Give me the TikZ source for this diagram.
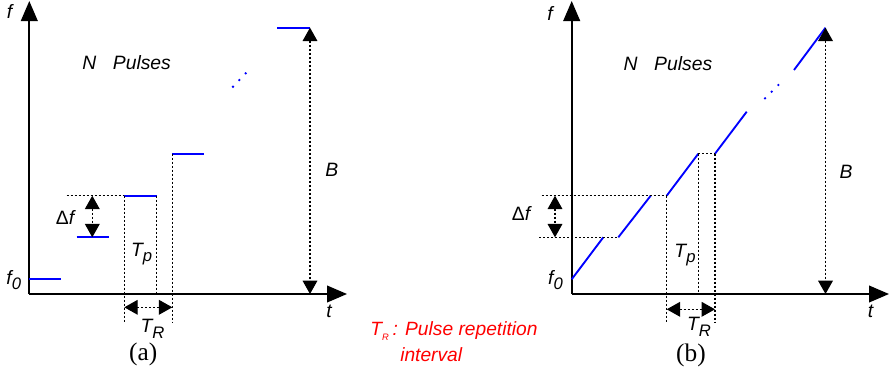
\documentclass[tikz,border=0pt]{standalone}
\usepackage{fontspec}
\setmainfont{Liberation Sans}
\newfontfamily\capfont{Liberation Serif}
\usepackage{tikz}
\usetikzlibrary{arrows.meta}
\definecolor{pulseblue}{rgb}{0,0,1}
\definecolor{notered}{rgb}{1,0,0}
\newcommand\lblsub[2]{#1\raisebox{-0.3em}{\fontsize{12.5}{12.5}\selectfont #2}}
\tikzset{
  axis/.style={line width=1.4pt, -{Triangle[length=15pt,width=12.5pt]}},
  pulse/.style={draw=pulseblue, line width=1.4pt},
  guide/.style={line width=0.9pt, dash pattern=on 1.6pt off 1.4pt},
  dim/.style={guide, {Triangle[length=10pt,width=11pt]}-{Triangle[length=10pt,width=11pt]}},
  lbl/.style={font=\fontsize{14.5}{17}\selectfont\itshape, inner sep=0pt},
  note/.style={font=\fontsize{14.4}{17}\selectfont\itshape, text=notered, inner sep=0pt, anchor=base west},
  sublbl/.style={font=\capfont\fontsize{19}{22}\selectfont, inner sep=0pt},
}
\begin{document}
\begin{tikzpicture}[x=0.75pt,y=-0.75pt]
\useasboundingbox (0,0) rectangle (891,376);
\coordinate (oa)   at (29.3,294);
\coordinate (atop) at (29.3,1);
\coordinate (aend) at (347,294);
\coordinate (alow) at (0,322.7);
\coordinate (a1s) at (29.3,279.3);  \coordinate (a1e) at (61,279.3);
\coordinate (a2s) at (76.7,237.3);  \coordinate (a2e) at (109,237.3);
\coordinate (a3s) at (124.3,195.7); \coordinate (a3e) at (156.7,195.7);
\coordinate (a4s) at (172.3,153.7); \coordinate (a4e) at (204.3,153.7);
\coordinate (ans) at (277.3,27.7);  \coordinate (ane) at (310,27.7);
\coordinate (adf) at (66.7,195.7);
\coordinate (adt) at (92.3,195.7);  \coordinate (adb) at (92.3,237.3);
\coordinate (atrl) at (124.3,307.3); \coordinate (atrr) at (172.3,307.3);
\coordinate (ad1) at (233,86.7);
\coordinate (ad2) at (239.3,80);
\coordinate (ad3) at (245.7,73.3);
\draw[axis] (oa) -- (atop);
\draw[axis] (oa) -- (aend);
\draw[pulse] (a1s) -- (a1e);
\draw[pulse] (a2s) -- (a2e);
\draw[pulse] (a3s) -- (a3e);
\draw[pulse] (a4s) -- (a4e);
\draw[pulse] (ans) -- (ane);
\fill[pulseblue] (ad1) circle (1.3) (ad2) circle (1.3) (ad3) circle (1.3);
\draw[guide] (adf) -- (a3s);
\draw[guide] (a3s) -- (a3s |- alow);
\draw[guide] (a3e) -- (a3e |- oa);
\draw[guide] (a4s) -- (a4s |- alow);
\draw[dim] (adt) -- (adb);
\draw[dim] (atrl) -- (atrr);
\draw[dim] (ane) -- (ane |- oa);
\node[lbl] (af)  at (9.5,11.5)  {f};
\node[lbl] (af0) at (13.7,280)  {\lblsub{f}{0}};
\node[lbl] (adfl) at (65,217)   {{\upshape Δ}f};
\node[lbl] (atp) at (141.7,254) {\lblsub{T}{p}};
\node[lbl] (atr) at (152.5,329) {\lblsub{T}{R}};
\node[lbl] (ab)  at (331.7,169.5) {B};
\node[lbl] (at)  at (329,311)   {t};
\node[lbl, anchor=base west] (anp) at (82,69.3) {N\hspace{12.5pt}Pulses};
\node[sublbl] (acap) at (143.3,354) {(a)};
\coordinate (ob)   at (571.7,294);
\coordinate (btop) at (571.7,1);
\coordinate (bend) at (889,294);
\coordinate (b1s) at (571.7,279.3); \coordinate (b1e) at (603.3,237.3);
\coordinate (b2s) at (618.3,237.3); \coordinate (b2e) at (650.7,195.7);
\coordinate (b3s) at (666.7,195.7); \coordinate (b3e) at (698.3,153.7);
\coordinate (b4s) at (715,153.7);   \coordinate (b4e) at (746.7,111.7);
\coordinate (bns) at (794,70);      \coordinate (bne) at (825.5,27.7);
\coordinate (bdf1) at (539.3,237.3);
\coordinate (bdf2) at (541.7,195.7);
\coordinate (bdt) at (555,195.7);   \coordinate (bdb) at (555,237.3);
\coordinate (btrl) at (666.7,309.3); \coordinate (btrr) at (715,309.3);
\coordinate (bd1) at (765,98.3);
\coordinate (bd2) at (771.7,91.7);
\coordinate (bd3) at (778.3,85);
\draw[axis] (ob) -- (btop);
\draw[axis] (ob) -- (bend);
\draw[pulse] (b1s) -- (b1e);
\draw[pulse] (b2s) -- (b2e);
\draw[pulse] (b3s) -- (b3e);
\draw[pulse] (b4s) -- (b4e);
\draw[pulse] (bns) -- (bne);
\fill[pulseblue] (bd1) circle (1.3) (bd2) circle (1.3) (bd3) circle (1.3);
\draw[guide] (bdf1) -- (b2s);
\draw[guide] (bdf2) -- (b3s);
\draw[guide] (b3e) -- (b4s);
\draw[guide] (b3s) -- (b3s |- alow);
\draw[guide] (b3e) -- (b3e |- ob);
\draw[guide] (b4s) -- (b4s |- alow);
\draw[dim] (bdt) -- (bdb);
\draw[dim] (btrl) -- (btrr);
\draw[dim] (bne) -- (bne |- ob);
\node[lbl] (bf)  at (550,13.3)  {f};
\node[lbl] (bf0) at (555.5,280) {\lblsub{f}{0}};
\node[lbl] (bdfl) at (521,213)  {{\upshape Δ}f};
\node[lbl] (btp) at (685,255)   {\lblsub{T}{p}};
\node[lbl] (btr) at (699,327)   {\lblsub{T}{R}};
\node[lbl] (bb)  at (846,171.5) {B};
\node[lbl] (bt)  at (870.5,311) {t};
\node[lbl, anchor=base west] (bnp) at (623.3,70.7) {N\hspace{12.5pt}Pulses};
\node[sublbl] (bcap) at (691,355) {(b)};
\node[note] (trnote)  at (370,335)   {T\raisebox{-0.3em}{\fontsize{7}{7}\selectfont R}\hspace{3pt}: Pulse repetition};
\node[note] (trnote2) at (400,361.7) {interval};
\end{tikzpicture}
\end{document}
